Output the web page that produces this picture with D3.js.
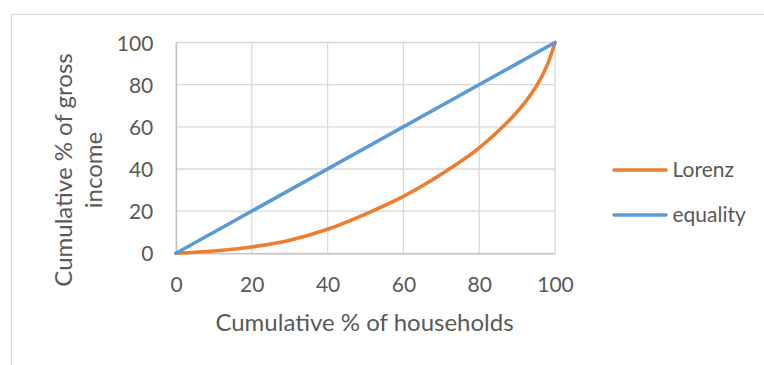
<!DOCTYPE html>
<html>
<head>
<meta charset="utf-8">
<script src="https://cdn.jsdelivr.net/npm/d3@7"></script>
<style>
  html, body { margin: 0; padding: 0; background: #fff; }
  svg { display: block; }
  text { font-family: Lato, "Open Sans", sans-serif; fill: #595959; }
</style>
</head>
<body>
<svg id="chart" width="764" height="365"></svg>
<script>
// Cumulative share of households (%) and of gross income (%)
const householdPct = [0, 10, 20, 30, 40, 50, 60, 70, 80, 90, 95, 98, 100];
const lorenzPct    = [0, 1.1, 3, 6.2, 11.4, 18.6, 27, 37.5, 50, 67, 79, 89.5, 100];
const equalityX    = [0, 100];
const equalityY    = [0, 100];
const xTicks = [0, 20, 40, 60, 80, 100];
const yTicks = [0, 20, 40, 60, 80, 100];
const seriesNames = ["Lorenz", "equality"];
const seriesColors = ["#ED7D31", "#5B9BD5"];

const svg = d3.select("#chart");

// chart frame
svg.append("rect")
  .attr("x", 11.5).attr("y", 14.5)
  .attr("width", 800).attr("height", 400)
  .attr("fill", "#fff").attr("stroke", "#d9d9d9").attr("stroke-width", 1.3);

const plot = { left: 176, right: 555, top: 42.5, bottom: 253.3 };
const x = d3.scaleLinear().domain([0, 100]).range([plot.left, plot.right]);
const y = d3.scaleLinear().domain([0, 100]).range([plot.bottom, plot.top]);

// gridlines
const grid = svg.append("g");
grid.selectAll(".vg").data(xTicks).join("line")
  .attr("x1", d => x(d)).attr("x2", d => x(d))
  .attr("y1", plot.top).attr("y2", plot.bottom)
  .attr("stroke", "#d9d9d9").attr("stroke-width", 1.3);
grid.selectAll(".hg").data(yTicks).join("line")
  .attr("x1", plot.left).attr("x2", plot.right)
  .attr("y1", d => y(d)).attr("y2", d => y(d))
  .attr("stroke", "#d9d9d9").attr("stroke-width", 1.3);

// axes
const xAxis = svg.append("g")
  .attr("transform", `translate(0,${plot.bottom})`)
  .call(d3.axisBottom(x).tickValues(xTicks).tickSize(0).tickPadding(0));
xAxis.select(".domain").attr("stroke", "#bfbfbf").attr("stroke-width", 1.3);
xAxis.selectAll("text")
  .attr("dy", null).attr("y", 38.5)
  .style("font-size", "21px").attr("fill", "#595959");

const yAxis = svg.append("g")
  .attr("transform", `translate(${plot.left},0)`)
  .call(d3.axisLeft(y).tickValues(yTicks).tickSize(0).tickPadding(0));
yAxis.select(".domain").attr("stroke", "#bfbfbf").attr("stroke-width", 1.3);
yAxis.selectAll("text")
  .attr("dy", null).attr("x", -22.7).attr("y", 7.5)
  .style("font-size", "21px").attr("fill", "#595959");

// series
const line = d3.line().x(d => x(d[0])).y(d => y(d[1])).curve(d3.curveCatmullRom.alpha(0.5));
const lorenz = householdPct.map((h, i) => [h, lorenzPct[i]]);
const equality = equalityX.map((h, i) => [h, equalityY[i]]);
[lorenz, equality].forEach((pts, i) => {
  svg.append("path")
    .attr("d", line(pts))
    .attr("fill", "none")
    .attr("stroke", seriesColors[i])
    .attr("stroke-width", 3.6)
    .attr("stroke-linecap", "round")
    .attr("stroke-linejoin", "round");
});

// axis titles
svg.append("text")
  .attr("x", 364.5).attr("y", 330.5)
  .attr("text-anchor", "middle")
  .style("font-size", "24px")
  .text("Cumulative % of households");

const yTitle = svg.append("text")
  .attr("transform", "translate(0,170) rotate(-90)")
  .attr("text-anchor", "middle")
  .style("font-size", "24px");
yTitle.append("tspan").attr("x", 0).attr("y", 71.5).text("Cumulative % of gross");
yTitle.append("tspan").attr("x", 0).attr("y", 101.5).text("income");

// legend
const legend = svg.append("g");
seriesNames.forEach((name, i) => {
  const ly = 170 + i * 45;
  legend.append("line")
    .attr("x1", 614).attr("x2", 666)
    .attr("y1", ly).attr("y2", ly)
    .attr("stroke", seriesColors[i]).attr("stroke-width", 3.6)
    .attr("stroke-linecap", "round");
  legend.append("text")
    .attr("x", 672.5).attr("y", ly + 7)
    .style("font-size", "21px")
    .text(name);
});
</script>
</body>
</html>
